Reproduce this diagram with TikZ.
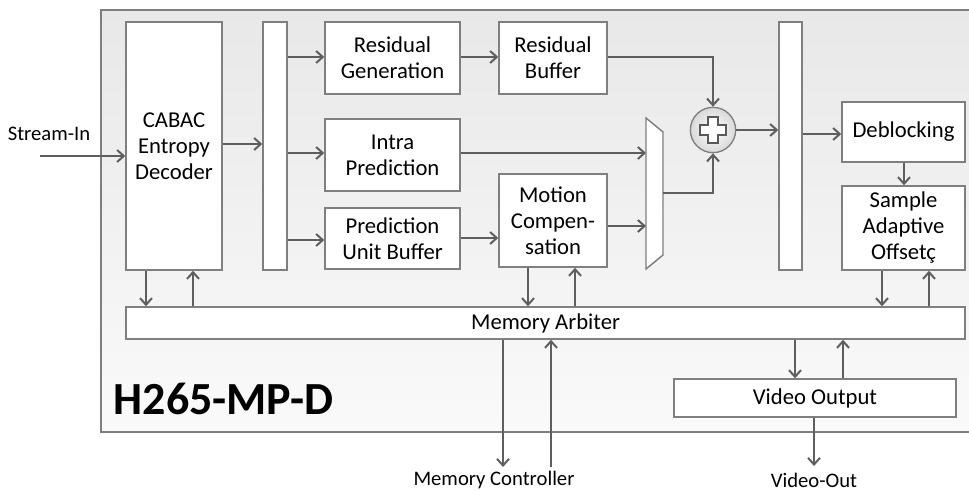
\documentclass[tikz,border=0pt]{standalone}
\usepackage{fontspec}
\setmainfont{Carlito}
\usetikzlibrary{calc, arrows.meta}

\definecolor{linegray}{HTML}{5E5E5E}
\definecolor{boxgray}{HTML}{7F7F7F}

\tikzset{
  block/.style={draw=boxgray, line width=1.1pt, fill=white, inner sep=0pt,
                align=center, font=\fontsize{17}{19.5}\selectfont},
  bw/.style={minimum width=#1*0.75pt},
  bh/.style={minimum height=#1*0.75pt},
  flow/.style={draw=linegray, line width=1.5pt, -{Straight Barb[length=5pt, width=9pt]}},
  label/.style={inner sep=0pt, font=\fontsize{15.5}{17}\selectfont},
  adder/.style={circle, draw=boxgray, line width=1pt, minimum size=34pt,
                inner color=white, outer color=gray!30},
}

\begin{document}
\begin{tikzpicture}[x=0.75pt, y=-0.75pt]

    \useasboundingbox (0,0) rectangle (969,491);

    % 1. The decoder chip outline
    \draw[boxgray, line width=1.5pt, shading angle=45, top color=gray!18, bottom color=gray!4]
        (101,10) rectangle (975,432);
    \node[anchor=west, font=\fontsize{34.5}{38}\selectfont\bfseries] (chip) at (109,399) {H265-MP-D};

    % 2. Blocks of the decoding pipeline
    \node[block, bw=96, bh=248] (cabac) at (174,146) {CABAC\\Entropy\\Decoder};
    \node[block, bw=24, bh=248] (bus1) at (275,146) {};
    \node[block, bw=135, bh=72] (resgen) at (392.5,58) {Residual\\Generation};
    \node[block, bw=108, bh=72] (resbuf) at (553,58) {Residual\\Buffer};
    \node[block, bw=135, bh=72] (intra) at (392.5,155) {Intra\\Prediction};
    \node[block, bw=135, bh=61] (pubuf) at (392.5,238.5) {Prediction\\Unit Buffer};
    \node[block, bw=108, bh=93] (mc) at (553,220.5) {Motion\\Compen-\\sation};
    \node[block, bw=23, bh=248] (bus2) at (790.5,146) {};
    \node[block, bw=123, bh=60] (deblock) at (903.5,132) {Deblocking};
    \node[block, bw=123, bh=84] (sao) at (903.5,228) {Sample\\Adaptive\\Offsetç};
    \node[block, bw=839, bh=32] (arbiter) at (545.5,323) {Memory Arbiter};
    \node[block, bw=282, bh=38] (vout) at (815,398) {Video Output};

    % 3. The multiplexer and the adder
    \draw[boxgray, line width=1.1pt, fill=white] (646,118) -- (663,132) -- (663,255) -- (646,269) -- cycle;
    \coordinate (muxa) at (646,153);
    \coordinate (muxb) at (646,226);
    \coordinate (muxo) at (663,193);
    \node[adder] (add) at (713,130) {};
    \fill[white, draw=gray!70!black, line width=1.2pt]
        ($(add)+(-5,-13)$) -- ++(10,0) -- ++(0,8) -- ++(8,0) -- ++(0,10) -- ++(-8,0)
        -- ++(0,8) -- ++(-10,0) -- ++(0,-8) -- ++(-8,0) -- ++(0,-10) -- ++(8,0) -- cycle;

    % 4. Outside ports
    \node[label] (sin) at (49,134) {Stream-In};
    \coordinate (sinstart) at (40,156);
    \node[label] (memctl) at (494,480) {Memory Controller};
    \coordinate (mcdown) at (503,467);
    \coordinate (mcup) at (551,467);
    \node[label] (vidout) at (814,480) {Video-Out};
    \coordinate (voend) at (814,466);

    % 5. Data flow
    \draw[flow] (sinstart) -- (cabac.west |- sinstart);
    \draw[flow] (cabac.east |- 0,144) -- (bus1.west |- 0,144);
    \draw[flow] (bus1.east |- 0,57) -- (resgen.west |- 0,57);
    \draw[flow] (bus1.east |- 0,153) -- (intra.west |- 0,153);
    \draw[flow] (bus1.east |- 0,240) -- (pubuf.west |- 0,240);
    \draw[flow] (resgen.east |- 0,57) -- (resbuf.west |- 0,57);
    \draw[flow] (pubuf.east |- 0,238) -- (mc.west |- 0,238);
    \draw[flow] (intra.east |- muxa) -- (muxa);
    \draw[flow] (mc.east |- muxb) -- (muxb);
    \draw[flow] (resbuf.east |- 0,57) -| (add.north);
    \draw[flow] (muxo) -| (add.south);
    \draw[flow] (add.east) -- (bus2.west |- add);
    \draw[flow] (bus2.east |- 0,134) -- (deblock.west |- 0,134);
    \draw[flow] (deblock.south -| 904,0) -- (sao.north -| 904,0);

    % 6. Memory traffic
    \draw[flow] (cabac.south -| 146,0) -- (arbiter.north -| 146,0);
    \draw[flow] (arbiter.north -| 193,0) -- (cabac.south -| 193,0);
    \draw[flow] (mc.south -| 528,0) -- (arbiter.north -| 528,0);
    \draw[flow] (arbiter.north -| 575,0) -- (mc.south -| 575,0);
    \draw[flow] (sao.south -| 882,0) -- (arbiter.north -| 882,0);
    \draw[flow] (arbiter.north -| 929,0) -- (sao.south -| 929,0);
    \draw[flow] (arbiter.south -| 795,0) -- (vout.north -| 795,0);
    \draw[flow] (vout.north -| 843,0) -- (arbiter.south -| 843,0);
    \draw[flow] (arbiter.south -| mcdown) -- (mcdown);
    \draw[flow] (mcup) -- (arbiter.south -| mcup);
    \draw[flow] (vout.south -| voend) -- (voend);

\end{tikzpicture}
\end{document}
